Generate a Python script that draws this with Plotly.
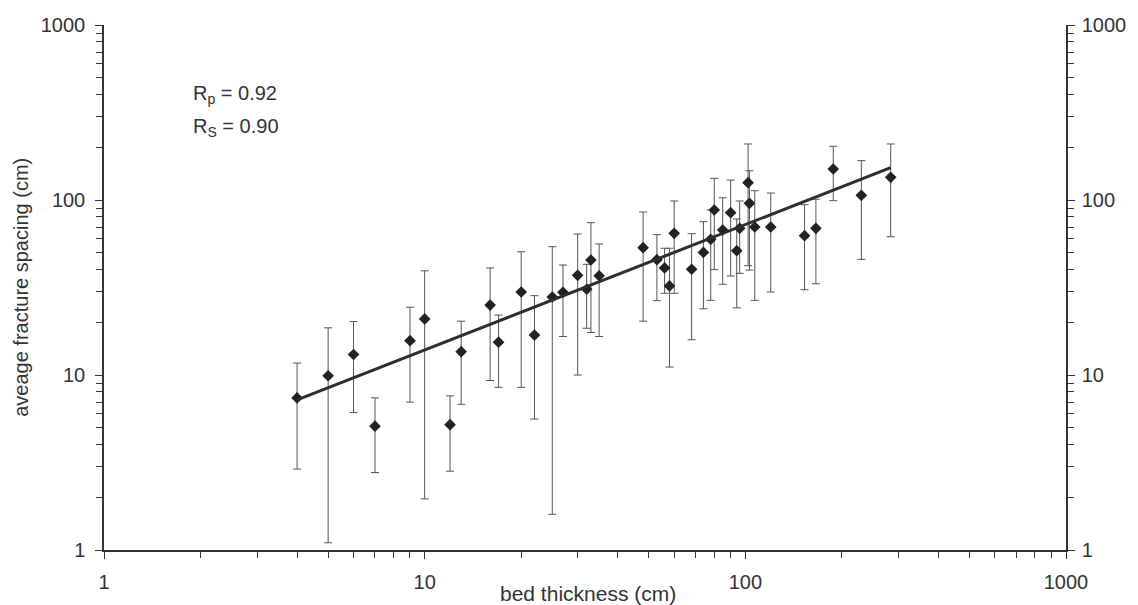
import plotly.graph_objects as go

# bed thickness (cm) and mean fracture spacing (cm) with min/max range
bed_thickness = [4, 5, 6, 7, 9, 10, 12, 13, 16, 17, 20, 22, 25, 27, 30, 32, 33, 35,
                 48, 53, 56, 58, 60, 68, 74, 80, 78, 85, 90, 94, 96, 102, 103, 107,
                 120, 153, 166, 188, 230, 284]
spacing_mean = [7.4, 9.9, 13.1, 5.1, 15.7, 20.9, 5.2, 13.6, 25.1, 15.4, 29.8, 16.9,
                27.9, 29.7, 37.1, 30.9, 45.4, 36.9, 53.4, 45.6, 40.9, 32.3, 64.5,
                40.2, 50.2, 87.7, 59.6, 67.4, 84.6, 51.3, 68.9, 125.6, 95.7, 70.1,
                70.1, 62.5, 68.9, 150.4, 106.4, 134.8]
spacing_max = [11.7, 18.6, 20.2, 7.4, 24.4, 39.4, 7.6, 20.3, 40.9, 22.0, 50.6, 28.4,
               54.1, 42.5, 63.9, 42.9, 74.2, 56.1, 85.4, 63.4, 53.0, 53.0, 98.7,
               64.2, 75.2, 133.0, 87.7, 103.0, 130.0, 77.9, 98.7, 209.0, 147.0,
               113.0, 109.6, 94.0, 101.0, 202.8, 167.8, 209.0]
spacing_min = [2.9, 1.1, 6.1, 2.77, 7.0, 1.96, 2.82, 6.8, 9.3, 8.5, 8.5, 5.6, 1.6,
               16.6, 10.0, 18.5, 17.5, 16.6, 20.3, 26.6, 29.3, 11.1, 29.3, 15.9,
               23.9, 40.0, 26.7, 33.0, 36.8, 24.2, 38.1, 42.1, 39.8, 26.7, 29.8,
               30.7, 33.2, 99.1, 45.8, 61.7]

# power-law trend line end points
trend_x = [4, 284]
trend_y = [7.2, 153]

# axis ticks
major_ticks = [1, 10, 100, 1000]
major_text = ["1", "10", "100", "1000"]
minor_ticks = [m * d for d in (1, 10, 100) for m in range(2, 10)]

stats_lines = ["R<sub>p</sub> = 0.92", "R<sub>S</sub> = 0.90"]

FONT = "Liberation Sans, Arial, sans-serif"
INK = "#333333"

err_plus = [hi - m for hi, m in zip(spacing_max, spacing_mean)]
err_minus = [m - lo for lo, m in zip(spacing_min, spacing_mean)]

fig = go.Figure()

fig.add_trace(go.Scatter(
    x=bed_thickness, y=spacing_mean, mode="markers",
    marker=dict(symbol="diamond", size=9, color="#222222"),
    error_y=dict(type="data", symmetric=False, array=err_plus,
                 arrayminus=err_minus, color="#555555", thickness=1, width=4),
    showlegend=False,
))

fig.add_trace(go.Scatter(
    x=trend_x, y=trend_y, mode="lines",
    line=dict(color="#2e2e2e", width=3), showlegend=False,
))

# empty trace so the right-hand axis is drawn
fig.add_trace(go.Scatter(x=[], y=[], yaxis="y2", showlegend=False, hoverinfo="skip"))

axis_common = dict(
    type="log", range=[0, 3], showgrid=False, zeroline=False,
    showline=True, linecolor=INK, linewidth=1.5,
    ticks="outside", ticklen=7, tickwidth=1.2, tickcolor=INK,
    tickmode="array", tickvals=major_ticks, ticktext=major_text,
    tickfont=dict(family=FONT, size=20, color=INK),
    minor=dict(ticks="outside", ticklen=6, tickwidth=1, tickcolor=INK,
               tickmode="array", tickvals=minor_ticks),
)

fig.update_layout(
    width=1138, height=605,
    margin=dict(l=104, r=70, t=25, b=55),
    paper_bgcolor="white", plot_bgcolor="white",
    font=dict(family=FONT, size=20, color=INK),
    xaxis=dict(**axis_common, ticklabelstandoff=6),
    yaxis=dict(**axis_common, ticklabelstandoff=6),
    yaxis2=dict(**axis_common, overlaying="y", side="right", anchor="x",
                ticklabelstandoff=3),
)

annotations = [
    dict(text="bed thickness (cm)", xref="paper", yref="paper",
         x=0.503, y=-0.082, xanchor="center", yanchor="middle",
         showarrow=False, font=dict(family=FONT, size=21, color=INK)),
    dict(text="aveage fracture spacing (cm)", xref="paper", yref="paper",
         x=-0.087, y=0.5, xanchor="center", yanchor="middle", textangle=-90,
         showarrow=False, font=dict(family=FONT, size=20, color=INK)),
]
for i, line in enumerate(stats_lines):
    annotations.append(dict(
        text=line, xref="paper", yref="paper", x=0.09, y=0.867 - i * 0.063,
        xanchor="left", yanchor="middle", showarrow=False,
        font=dict(family=FONT, size=20, color=INK)))
fig.update_layout(annotations=annotations)

fig.write_html("out.html")
